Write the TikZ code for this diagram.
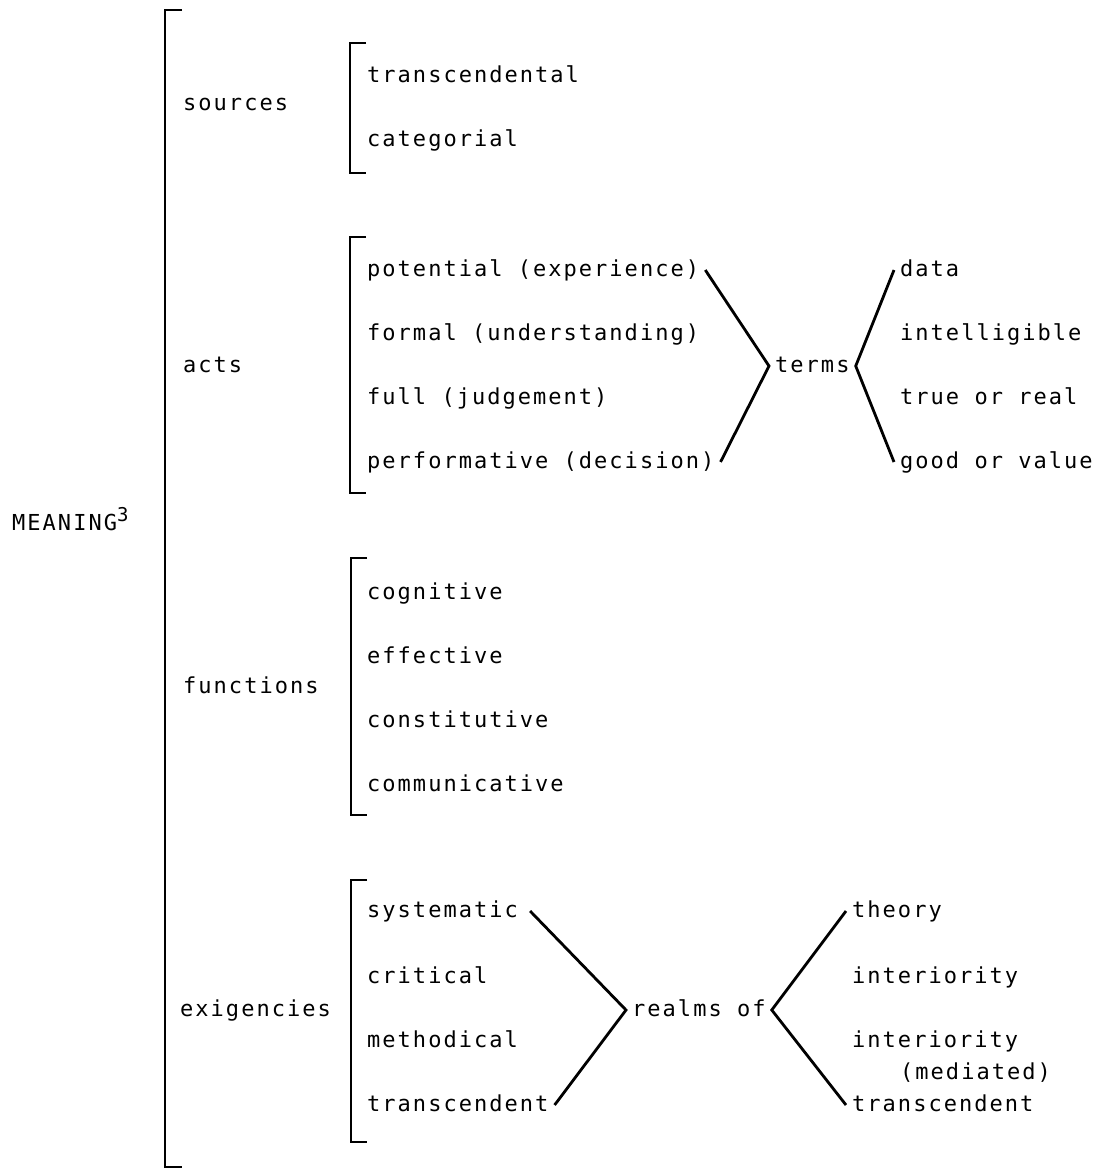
\documentclass[tikz,border=0pt]{standalone}
\usepackage{fontspec}
\newfontfamily\typefont[LetterSpace=9.2]{DejaVu Sans Mono}
\usepackage{tikz}

\begin{document}
\begin{tikzpicture}[x=1pt, y=-1pt,
    lbl/.style={font=\typefont\fontsize{22}{26}\selectfont, anchor=west, inner sep=6pt, text height=12pt, text depth=0pt},
    brak/.style={line width=2.8pt},
    fork/.style={line width=2.8pt}]

    \useasboundingbox (0, 0) rectangle (1105, 1171);

    % Main label
    \node[lbl, inner sep=0pt] (meaning) at (12, 524) {MEANING\raisebox{9pt}{\fontsize{19}{19}\selectfont 3}};

    % Main bracket
    \draw[brak] (182, 10) -- (165, 10) -- (165, 1167) -- (182, 1167);

    % Second column labels
    \node[lbl] (sources) at (177, 104) {sources};
    \node[lbl] (acts) at (177, 366) {acts};
    \node[lbl] (functions) at (177, 687) {functions};
    \node[lbl] (exigencies) at (174, 1010) {exigencies};

    % Sources group
    \draw[brak] (366, 43) -- (350, 43) -- (350, 173) -- (366, 173);
    \node[lbl] (transcendental) at (361, 76) {transcendental};
    \node[lbl] (categorial) at (361, 140) {categorial};

    % Acts group
    \draw[brak] (366, 237) -- (350, 237) -- (350, 493) -- (366, 493);
    \node[lbl] (potential) at (361, 270) {potential (experience)};
    \node[lbl] (formal) at (361, 334) {formal (understanding)};
    \node[lbl] (full) at (361, 398) {full (judgement)};
    \node[lbl] (performative) at (361, 462) {performative (decision)};

    % Terms and its objects
    \node[lbl] (terms) at (769, 366) {terms};
    \node[lbl] (data) at (894, 270) {data};
    \node[lbl] (intelligible) at (894, 334) {intelligible};
    \node[lbl] (truereal) at (894, 398) {true or real};
    \node[lbl] (goodvalue) at (894, 462) {good or value};

    \draw[fork] (potential.east) -- (terms.west) -- (performative.east);
    \draw[fork] (data.west) -- (terms.east) -- (goodvalue.west);

    % Functions group
    \draw[brak] (367, 558) -- (351, 558) -- (351, 815) -- (367, 815);
    \node[lbl] (cognitive) at (361, 593) {cognitive};
    \node[lbl] (effective) at (361, 657) {effective};
    \node[lbl] (constitutive) at (361, 721) {constitutive};
    \node[lbl] (communicative) at (361, 785) {communicative};

    % Exigencies group
    \draw[brak] (367, 880) -- (351, 880) -- (351, 1142) -- (367, 1142);
    \node[lbl] (systematic) at (361, 911) {systematic};
    \node[lbl] (critical) at (361, 977) {critical};
    \node[lbl] (methodical) at (361, 1041) {methodical};
    \node[lbl] (transcendent) at (361, 1105) {transcendent};

    % Realms of and its objects
    \node[lbl] (realms) at (626, 1010) {realms of};
    \node[lbl] (theory) at (846, 911) {theory};
    \node[lbl] (interiority) at (846, 977) {interiority};
    \node[lbl] (interiorm) at (846, 1041) {interiority};
    \node[lbl] (mediated) at (894, 1073) {(mediated)};
    \node[lbl] (transcendentr) at (846, 1105) {transcendent};

    \draw[fork] ([xshift=6pt]systematic.east) -- (realms.west) -- (transcendent.east);
    \draw[fork] (theory.west) -- (realms.east) -- (transcendentr.west);

\end{tikzpicture}
\end{document}
